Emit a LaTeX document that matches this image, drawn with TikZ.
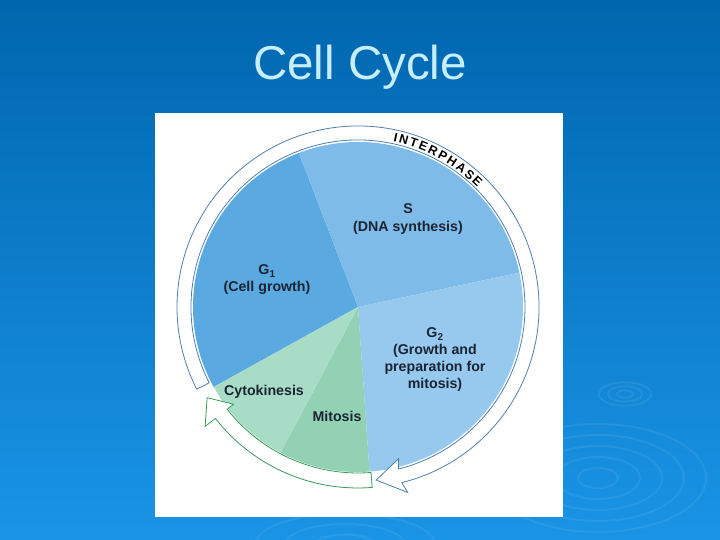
\documentclass[tikz,border=0pt]{standalone}
\usepackage{fontspec}
\setmainfont{Liberation Sans}
\usetikzlibrary{calc, decorations.text}

\definecolor{bgtop}{HTML}{0066AE}
\definecolor{bgbot}{HTML}{1A94E6}
\definecolor{titlecol}{HTML}{C6EEFF}
\definecolor{gonecol}{HTML}{5BA9E1}
\definecolor{scol}{HTML}{7FBBE9}
\definecolor{gtwocol}{HTML}{97C9EF}
\definecolor{cytocol}{HTML}{A9DCC6}
\definecolor{mitocol}{HTML}{92D1B3}
\definecolor{labelcol}{HTML}{1B2433}
\definecolor{interline}{HTML}{4F7FB0}
\definecolor{mitoline}{HTML}{3A9A5A}

\begin{document}
\begin{tikzpicture}[
    x=1pt, y=1pt,
    every node/.style={font=\bfseries\fontsize{14.2}{17}\selectfont, text=labelcol, align=center, inner sep=0pt},
    ripple/.style={draw=white, draw opacity=0.07, line width=2pt},
    interarrow/.style={fill=white, draw=interline, line width=0.8pt, line join=miter},
    mitoarrow/.style={fill=white, draw=mitoline, line width=0.8pt, line join=miter},
  ]
    \useasboundingbox (0,0) rectangle (720,540);
    \shade[top color=bgtop, bottom color=bgbot] (0,0) rectangle (720,540);

    % ripples in the background
    \foreach \r in {8,17,26}
      \draw[ripple] (625,146) ellipse[x radius=\r, y radius=0.45*\r];
    \foreach \r in {20,42,64,86,108}
      \draw[ripple] (598,62) ellipse[x radius=\r, y radius=0.5*\r];
    \foreach \r in {30,60,90}
      \draw[ripple] (345,-5) ellipse[x radius=\r, y radius=0.35*\r];

    \node[font=\fontsize{47.5}{50}\selectfont, text=titlecol] (title) at (360,473) {Cell Cycle};

    \fill[white] (155,23) rectangle (563,427);

    \coordinate (c) at (358,233);
    % pie sectors
    \fill[gonecol] (c) -- ++(111:165) arc[start angle=111, end angle=209, radius=165] -- cycle;
    \fill[scol]    (c) -- ++(12:165)  arc[start angle=12, end angle=111, radius=165] -- cycle;
    \fill[gtwocol] (c) -- ++(-86:165) arc[start angle=-86, end angle=12, radius=165] -- cycle;
    \fill[mitocol] (c) -- ++(-118:165) arc[start angle=-118, end angle=-86, radius=165] -- cycle;
    \fill[cytocol] (c) -- ++(209:165) arc[start angle=209, end angle=242, radius=165] -- cycle;

    % interphase arrow
    \filldraw[interarrow] ($(c)+(207:167)$) arc[start angle=207, end angle=-76, radius=167]
      -- ($(c)+(-75:157)$) -- ($(c)+(-84:174)$) -- ($(c)+(-75:192)$) -- ($(c)+(-76:181)$)
      arc[start angle=-76, end angle=207, radius=181] -- cycle;
    % mitosis arrow
    \filldraw[mitoarrow] ($(c)+(-85.5:166)$) arc[start angle=-85.5, end angle=-142, radius=166]
      -- ($(c)+(-142:158)$) -- ($(c)+(-149:176)$) -- ($(c)+(-142:194)$) -- ($(c)+(-142:181)$)
      arc[start angle=-142, end angle=-85.5, radius=181] -- cycle;

    \path[decorate, decoration={text along path, text align=fit to path,
        text={|\bfseries\fontsize{12.5}{12.5}\selectfont|INTERPHASE}}]
      ($(c)+(78:169)$) arc[start angle=78, end angle=45, radius=169];

    \node (s) at (408,331) {S};
    \node (ssub) at (408,312) {(DNA synthesis)};
    \node (gone) at (267,269) {G\textsubscript{1}};
    \node (gonesub) at (267,252) {(Cell growth)};
    \node (gtwo) at (435,206) {G\textsubscript{2}};
    \node (gtwosub) at (435,172) {(Growth and\\preparation for\\mitosis)};
    \node (cyto) at (264,148) {Cytokinesis};
    \node (mito) at (337,124) {Mitosis};
\end{tikzpicture}
\end{document}
